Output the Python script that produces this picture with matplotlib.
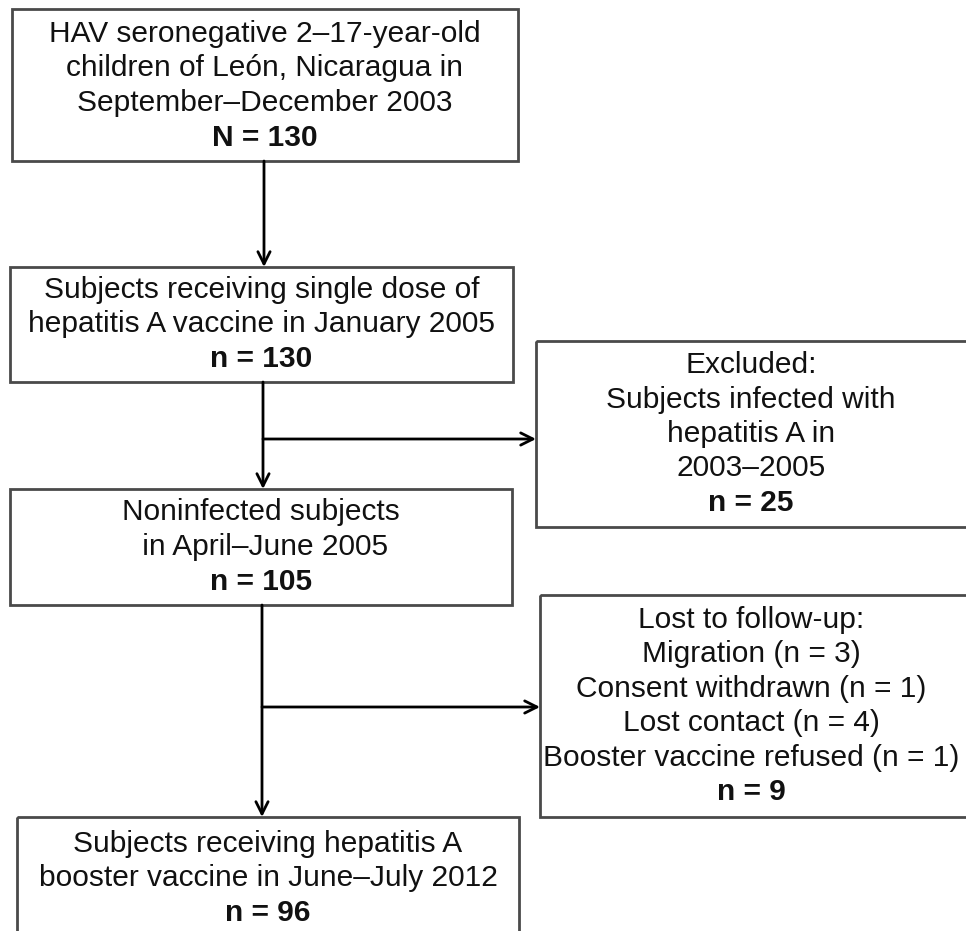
import matplotlib.pyplot as plt
from matplotlib.patches import Rectangle

plt.rcParams['font.family'] = ['Liberation Sans', 'DejaVu Sans']

# box texts (last line of each box is bold count)
start_lines = ["HAV seronegative 2\u201317-year-old", "children of Le\u00f3n, Nicaragua in", "September\u2013December 2003"]
start_n = "N = 130"
dose_lines = ["Subjects receiving single dose of", "hepatitis A vaccine in January 2005"]
dose_n = "n = 130"
excl_lines = ["Excluded:", "Subjects infected with", "hepatitis A in", "2003\u20132005"]
excl_n = "n = 25"
noninf_lines = ["Noninfected subjects", " in April\u2013June 2005"]
noninf_n = "n = 105"
lost_lines = ["Lost to follow-up:", "Migration (n = 3)", "Consent withdrawn (n = 1)",
              "Lost contact (n = 4)", "Booster vaccine refused (n = 1)"]
lost_n = "n = 9"
boost_lines = ["Subjects receiving hepatitis A", "booster vaccine in June\u2013July 2012"]
boost_n = "n = 96"

fig = plt.figure(figsize=(9.66, 9.31), dpi=100)
ax = fig.add_axes([0, 0, 1, 1])
ax.set_xlim(0, 966)
ax.set_ylim(931, 0)
ax.axis('off')

edge = '#4a4a4a'
step = 34.5


def box(x0, y0, x1, y1, lines, n, first=None, cx=None):
    ax.add_patch(Rectangle((x0, y0), x1 - x0, y1 - y0, fill=False, ec=edge, lw=2))
    if cx is None:
        cx = (x0 + x1) / 2
    allr = lines + [n]
    if first is None:
        first = (y0 + y1) / 2 - step * (len(allr) - 1) / 2
    for k, t in enumerate(allr):
        ax.text(cx, first + k * step, t, ha='center', va='center', fontsize=21.5,
                fontweight='bold' if k == len(allr) - 1 else 'normal', color='#111111')


def arrow(x0, y0, x1, y1):
    ax.annotate("", xy=(x1, y1), xytext=(x0, y0),
                arrowprops=dict(arrowstyle='->', lw=2, color='black',
                                shrinkA=0, shrinkB=0, mutation_scale=22))


box(12, 9, 518, 161, start_lines, start_n, first=34)
box(10, 267, 513, 382, dose_lines, dose_n)
box(536, 341, 975, 527, excl_lines, excl_n, cx=751)
box(10, 489, 512, 605, noninf_lines, noninf_n)
box(540, 595, 975, 817, lost_lines, lost_n, cx=751)
box(17, 817, 519, 960, boost_lines, boost_n, first=844)

arrow(264, 161, 264, 267)
arrow(263, 382, 263, 489)
arrow(263, 439, 536, 439)
arrow(262, 605, 262, 817)
arrow(262, 707, 540, 707)

fig.savefig('out.png', dpi=100)
